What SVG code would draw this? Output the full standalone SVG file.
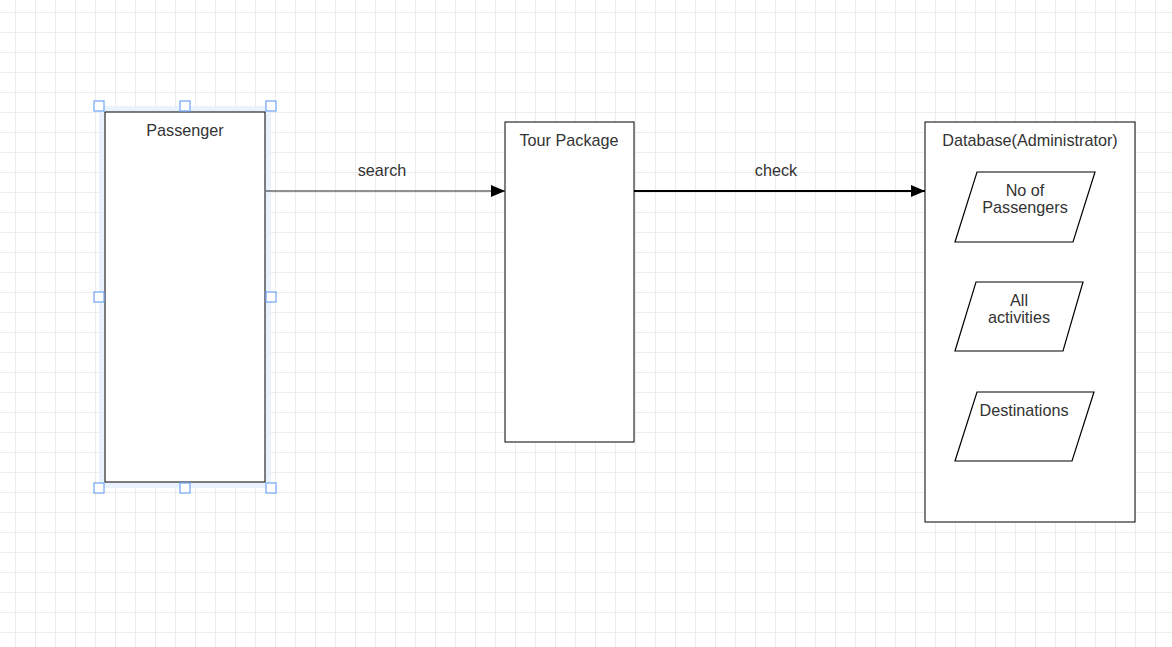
<svg xmlns="http://www.w3.org/2000/svg" width="1172" height="647" viewBox="0 0 1172 647">
<defs>
<pattern id="grid" x="15" y="12" width="20" height="20" patternUnits="userSpaceOnUse">
<path d="M0 0.5H20M0.5 0V20" fill="none" stroke="#ececec" stroke-width="1"/>
</pattern>
<marker id="arr" viewBox="0 0 14 12" refX="14" refY="6" markerWidth="14" markerHeight="12" markerUnits="userSpaceOnUse" orient="auto">
<path d="M0 0L14 6L0 12Z" fill="#000"/>
</marker>
</defs>
<style>
.box{fill:#fff;stroke:#000;stroke-width:1}
.para{fill:#fff;stroke:#000;stroke-width:1.2}
.t{font-family:"Liberation Sans",Arial,sans-serif;font-size:16.2px;fill:#333;text-anchor:middle}
.h{fill:#fff;stroke:#6fa3f7;stroke-width:1.2}
</style>
<rect width="1172" height="647" fill="#fff"/>
<rect width="1172" height="647" fill="url(#grid)"/>
<g id="passenger">
<rect x="99" y="106" width="172" height="382" fill="#e8f1fd" opacity="0.9"/>
<rect class="box" x="105" y="112" width="160" height="370" stroke="#333" stroke-width="1.5"/>
<text class="t" x="185" y="136">Passenger</text>
<rect class="h" x="94" y="101" width="10" height="10"/>
<rect class="h" x="180" y="101" width="10" height="10"/>
<rect class="h" x="266" y="101" width="10" height="10"/>
<rect class="h" x="94" y="292" width="10" height="10"/>
<rect class="h" x="266" y="292" width="10" height="10"/>
<rect class="h" x="94" y="483" width="10" height="10"/>
<rect class="h" x="180" y="483" width="10" height="10"/>
<rect class="h" x="266" y="483" width="10" height="10"/>
</g>
<g id="tour-package">
<rect class="box" x="505" y="122" width="129" height="320"/>
<text class="t" x="569" y="146">Tour Package</text>
</g>
<g id="database">
<rect class="box" x="925" y="122" width="210" height="400"/>
<text class="t" x="1030" y="146">Database(Administrator)</text>
</g>
<g id="no-of-passengers">
<polygon class="para" points="977,172 1095,172 1073,242 955,242"/>
<text class="t" x="1025" y="196">No of</text>
<text class="t" x="1025" y="213">Passengers</text>
</g>
<g id="all-activities">
<polygon class="para" points="976,282 1083,282 1063,351 955,351"/>
<text class="t" x="1019" y="306">All</text>
<text class="t" x="1019" y="323">activities</text>
</g>
<g id="destinations">
<polygon class="para" points="977,392 1094,392 1072,461 955,461"/>
<text class="t" x="1024" y="416">Destinations</text>
</g>
<g id="connectors">
<line x1="266" y1="191" x2="505" y2="191" stroke="#222" stroke-width="1.2" marker-end="url(#arr)"/>
<text class="t" x="382" y="176">search</text>
<line x1="634" y1="191" x2="925" y2="191" stroke="#000" stroke-width="2" marker-end="url(#arr)"/>
<text class="t" x="776" y="176">check</text>
</g>
</svg>
